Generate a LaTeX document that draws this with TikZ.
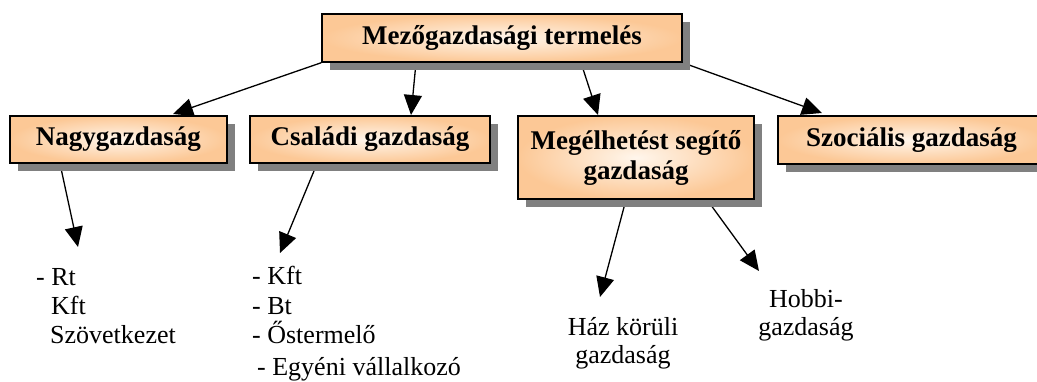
\documentclass[tikz,border=0pt]{standalone}
\usepackage{fontspec}
\setmainfont{Liberation Serif}
\usetikzlibrary{arrows.meta,shadows,backgrounds}
\definecolor{peach}{RGB}{252,200,150}
\definecolor{peachlight}{RGB}{255,246,236}
\definecolor{shadowgray}{RGB}{128,128,128}
\tikzset{
  box/.style={draw=black, line width=1.4pt, inner color=peachlight, outer color=peach,
    drop shadow={shadow xshift=8pt, shadow yshift=-8pt, fill=shadowgray, opacity=1},
    font=\fontsize{27}{30}\selectfont\bfseries, align=center, inner sep=0pt},
  lbl/.style={font=\fontsize{26}{28}\selectfont, anchor=base west, inner sep=0pt},
  clbl/.style={font=\fontsize{26}{28}\selectfont, align=center, anchor=north, inner sep=0pt},
  arr/.style={line width=1.3pt, -{Triangle[length=20pt,width=18pt]}},
}
\begin{document}
\begin{tikzpicture}[x=1pt,y=-1pt]
\useasboundingbox (0,0) rectangle (1037,381);
\clip (0,0) rectangle (1037,381);
% boxes
\node[box, minimum width=360pt, minimum height=48pt] (top) at (502,38) {Mezőgazdasági termelés};
\node[box, minimum width=217pt, minimum height=47pt] (nagy) at (118.5,139.5) {Nagygazdaság};
\node[box, minimum width=240pt, minimum height=47pt] (csal) at (370,139.5) {Családi gazdaság};
\node[box, minimum width=236pt, minimum height=83pt] (meg) at (636,157.5) {Megélhetést segítő\\gazdaság};
\node[box, minimum width=267pt, minimum height=48pt] (szoc) at (911.5,140) {Szociális gazdaság};
% lists
\node[lbl] (rt) at (36,285) {- Rt};
\node[lbl] (kft1) at (51,314) {Kft};
\node[lbl] (szov) at (50,343) {Szövetkezet};
\node[lbl] (kft2) at (252,284) {- Kft};
\node[lbl] (bt) at (252,314) {- Bt};
\node[lbl] (oster) at (252,343) {- Őstermelő};
\node[lbl] (egyeni) at (257,375) {- Egyéni vállalkozó};
\node[clbl] (haz) at (623,317) {Ház körüli\\gazdaság};
\node[clbl] (hobbi) at (806,289) {Hobbi-\\gazdaság};
% arrow tips
\coordinate (tnagy) at (173,114);
\coordinate (tcsal) at (411,115);
\coordinate (tmeg) at (598,115);
\coordinate (tszoc) at (822,113);
\coordinate (trt) at (78,247);
\coordinate (tkft) at (280,253);
\coordinate (thaz) at (600,297);
\coordinate (thobbi) at (759,271);
\begin{pgfonlayer}{background}
\draw[arr] (top.south west) -- (tnagy);
\draw[arr] ([xshift=-86pt]top.south) -- (tcsal);
\draw[arr] ([xshift=79pt]top.south) -- (tmeg);
\draw[arr] (top.south east) -- (tszoc);
\draw[arr] ([xshift=-58.5pt]nagy.south) -- (trt);
\draw[arr] ([xshift=-53pt]csal.south) -- (tkft);
\draw[arr] ([xshift=-10pt]meg.south) -- (thaz);
\draw[arr] ([xshift=71pt]meg.south) -- (thobbi);
\end{pgfonlayer}
\end{tikzpicture}
\end{document}
